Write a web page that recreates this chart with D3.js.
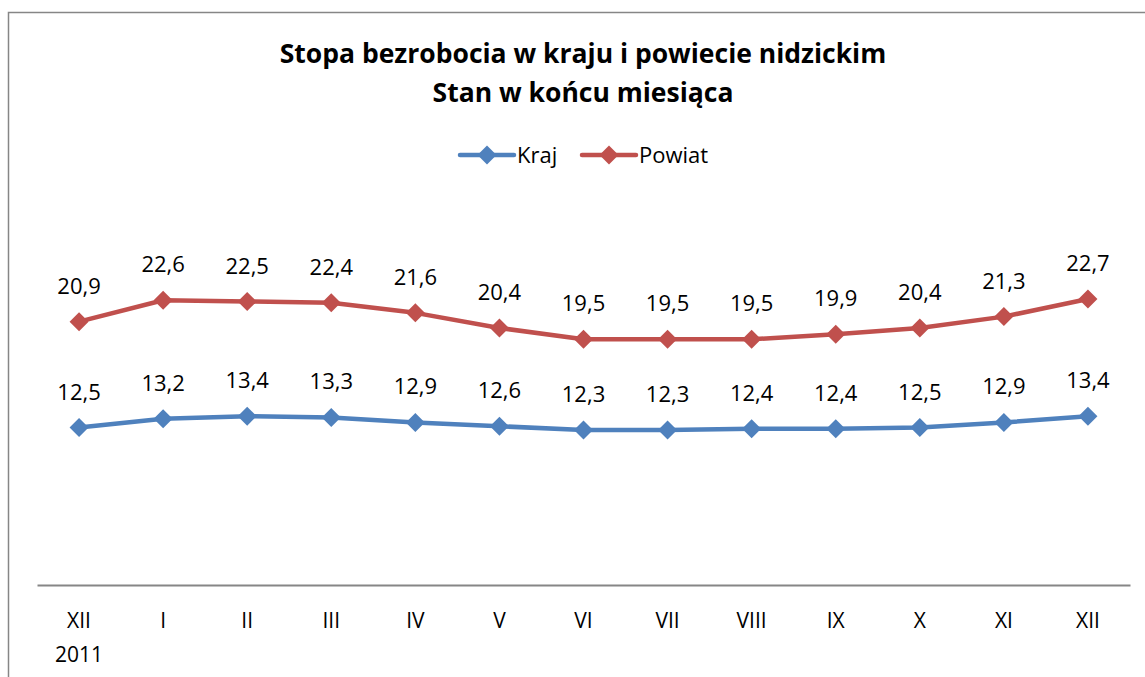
<!DOCTYPE html>
<html lang="pl">
<head>
<meta charset="UTF-8">
<title>Stopa bezrobocia</title>
<script src="https://d3js.org/d3.v7.min.js"></script>
<style>
  body { margin: 0; background: #fff; }
  svg text { font-family: "Open Sans", Lato, sans-serif; fill: #000; }
</style>
</head>
<body>
<svg width="1145" height="677"></svg>
<script>
const months = ["XII", "I", "II", "III", "IV", "V", "VI", "VII", "VIII", "IX", "X", "XI", "XII"];
const kraj = [12.5, 13.2, 13.4, 13.3, 12.9, 12.6, 12.3, 12.3, 12.4, 12.4, 12.5, 12.9, 13.4];
const powiat = [20.9, 22.6, 22.5, 22.4, 21.6, 20.4, 19.5, 19.5, 19.5, 19.9, 20.4, 21.3, 22.7];
const seriesNames = ["Kraj", "Powiat"];
const colors = ["#4f81bd", "#c0504d"];

const svg = d3.select("svg");
const fontFamily = "'Open Sans', Lato, sans-serif";

// chart frame (right and bottom edges are cropped)
svg.append("path")
   .attr("d", "M8.5,700 V12.5 H1160")
   .attr("fill", "none")
   .attr("stroke", "#868686")
   .attr("stroke-width", 1.5);

// title
const title = svg.append("text")
   .attr("text-anchor", "middle")
   .attr("font-weight", "bold")
   .attr("font-size", 26.5);
title.append("tspan").attr("x", 583).attr("y", 63).text("Stopa bezrobocia w kraju i powiecie nidzickim");
title.append("tspan").attr("x", 583).attr("y", 102).text("Stan w końcu miesiąca");

const x = d3.scaleBand().domain(d3.range(months.length)).range([37, 1130]);
const y = d3.scaleLinear().domain([0, 25]).range([585, 270]);

// category axis
const xAxis = svg.append("g")
   .attr("transform", "translate(0,585)")
   .call(d3.axisBottom(x).tickSize(0).tickPadding(28).tickFormat(i => months[i]));
xAxis.select(".domain").attr("stroke", "#868686").attr("stroke-width", 2);
xAxis.selectAll("text").attr("font-size", 21).attr("font-family", fontFamily);
svg.append("text")
   .attr("x", x(0) + x.bandwidth() / 2)
   .attr("y", 662)
   .attr("text-anchor", "middle")
   .attr("font-size", 21)
   .text("2011");

const series = [kraj, powiat];
const line = d3.line()
   .x((d, i) => x(i) + x.bandwidth() / 2)
   .y(d => y(d));
const diamond = "M0,-9.5L9.5,0L0,9.5L-9.5,0Z";

series.forEach((vals, s) => {
  const g = svg.append("g");
  g.append("path")
   .datum(vals)
   .attr("d", line)
   .attr("fill", "none")
   .attr("stroke", colors[s])
   .attr("stroke-width", 4.5)
   .attr("stroke-linejoin", "round");
  g.selectAll("path.m")
   .data(vals)
   .enter().append("path")
   .attr("class", "m")
   .attr("d", diamond)
   .attr("fill", colors[s])
   .attr("transform", (d, i) => `translate(${x(i) + x.bandwidth() / 2},${y(d)})`);
  g.selectAll("text")
   .data(vals)
   .enter().append("text")
   .attr("x", (d, i) => x(i) + x.bandwidth() / 2)
   .attr("y", d => y(d) - 28)
   .attr("text-anchor", "middle")
   .attr("font-size", 22)
   .text(d => d.toFixed(1).replace(".", ","));
});

// legend
const legend = svg.append("g");
const legendX = [460, 582];
seriesNames.forEach((name, s) => {
  const lg = legend.append("g").attr("transform", `translate(${legendX[s]},155)`);
  lg.append("line").attr("x1", 0).attr("x2", 54)
    .attr("stroke", colors[s]).attr("stroke-width", 4.5).attr("stroke-linecap", "round");
  lg.append("path").attr("d", diamond).attr("fill", colors[s])
    .attr("transform", "translate(27,0)");
  lg.append("text").attr("x", 57).attr("y", 8).attr("font-size", 22).text(name);
});
</script>
</body>
</html>
